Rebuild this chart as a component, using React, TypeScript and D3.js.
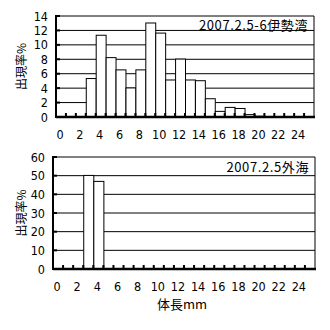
import React from "react";
import * as d3 from "d3";

const categories: number[] = d3.range(0, 26);
const tickLabels: number[] = [0, 2, 4, 6, 8, 10, 12, 14, 16, 18, 20, 22, 24];
const iseValues: number[] = [0, 0, 0, 5.4, 11.4, 8.3, 6.6, 4.1, 6.6, 13.1, 11.7, 5.2, 8.1, 5.2, 5.1, 2.6, 0.85, 1.4, 1.25, 0.4, 0.18, 0.14, 0, 0, 0, 0];
const sotoValues: number[] = [0, 0, 0, 50.4, 47.2, 0.5, 0, 0, 0, 0, 0, 0, 0, 0, 0, 0, 0, 0, 0, 0, 0, 0, 0, 0, 0, 0];
const iseTicks: number[] = [0, 2, 4, 6, 8, 10, 12, 14];
const sotoTicks: number[] = [0, 10, 20, 30, 40, 50, 60];
const yTitle = "出現率%";
const xTitle = "体長mm";
const iseLabel = "2007.2.5-6伊勢湾";
const sotoLabel = "2007.2.5外海";

const FONT = "'Noto Sans CJK JP', 'DejaVu Sans', sans-serif";
const NUMFONT = "'DejaVu Sans Condensed', 'Liberation Sans Narrow', 'DejaVu Sans', sans-serif";

type PanelProps = {
  values: number[];
  ticks: number[];
  yMax: number;
  left: number;
  right: number;
  top: number;
  bottom: number;
  label: string;
  labelY: number;
};

function Panel({ values, ticks, yMax, left, right, top, bottom, label, labelY }: PanelProps) {
  const x = d3.scaleBand<number>().domain(categories).range([left, right]).padding(0);
  const y = d3.scaleLinear().domain([0, yMax]).range([bottom, top]);
  const bw = x.bandwidth();
  return (
    <g>
      {ticks.filter((t) => t > 0).map((t) => (
        <line key={"g" + t} x1={left} x2={right} y1={y(t)} y2={y(t)} stroke="#000" strokeWidth={1} />
      ))}
      <line x1={right} x2={right} y1={top} y2={bottom} stroke="#000" strokeWidth={1} />
      {categories.map((c, i) =>
        values[i] > 0 ? (
          <rect
            key={"b" + c}
            x={(x(c) as number) + 0.5}
            y={y(values[i]) + 0.5}
            width={bw}
            height={Math.max(0, bottom - y(values[i]))}
            fill="#fff"
            stroke="#000"
            strokeWidth={1}
          />
        ) : null
      )}
      {ticks.map((t) => (
        <line key={"yt" + t} x1={left} x2={left + 4} y1={y(t)} y2={y(t)} stroke="#000" strokeWidth={2} />
      ))}
      {categories.map((c) => (
        <line key={"xt" + c} x1={x(c) as number} x2={x(c) as number} y1={bottom} y2={bottom - 4} stroke="#000" strokeWidth={2} />
      ))}
      <line x1={left} x2={left} y1={top - 1} y2={bottom + 1} stroke="#000" strokeWidth={2} />
      <line x1={left} x2={right + 1} y1={bottom} y2={bottom} stroke="#000" strokeWidth={2.5} />
      {ticks.map((t) => (
        <text key={"yl" + t} x={left - 8} y={y(t)} dy="0.36em" textAnchor="end" fontSize={12.5} fontFamily={NUMFONT}>
          {t}
        </text>
      ))}
      {tickLabels.map((t) => (
        <text key={"xl" + t} x={(x(t) as number) + bw / 2 - 1} y={bottom + 22} textAnchor="middle" fontSize={12.5} fontFamily={NUMFONT}>
          {t}
        </text>
      ))}
      <text x={right - 6} y={labelY} textAnchor="end" fontSize={13} letterSpacing={0.6} fontFamily={FONT}>
        {label}
      </text>
      <text
        transform={`translate(${22},${(top + bottom) / 2}) rotate(-90)`}
        textAnchor="middle"
        dy="0.36em"
        fontSize={12}
        fontFamily={FONT}
      >
        {yTitle}
      </text>
    </g>
  );
}

export default function App() {
  return (
    <svg width={330} height={330} style={{ position: "absolute", left: 0, top: 0, background: "#fff" }}>
      <rect x={0} y={0} width={330} height={330} fill="#fff" />
      <Panel values={iseValues} ticks={iseTicks} yMax={14} left={56} right={314} top={16} bottom={117} label={iseLabel} labelY={30} />
      <Panel values={sotoValues} ticks={sotoTicks} yMax={60} left={53} right={315} top={157} bottom={269} label={sotoLabel} labelY={172} />
      <text x={182} y={309} textAnchor="middle" fontSize={13} fontFamily={FONT}>
        {xTitle}
      </text>
    </svg>
  );
}
